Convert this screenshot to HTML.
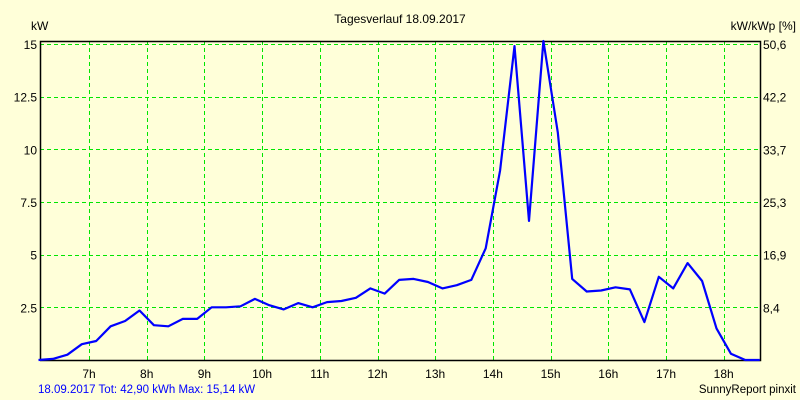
<!DOCTYPE html>
<html><head><meta charset="utf-8"><style>
html,body{margin:0;padding:0;background:#ffffd9;}
svg{display:block;font-family:"Liberation Sans",sans-serif;font-size:12px;}
</style></head><body>
<svg width="800" height="400" viewBox="0 0 800 400">
<rect x="0" y="0" width="800" height="400" fill="#ffffd9"/>
<text x="400" y="23" text-anchor="middle">Tagesverlauf 18.09.2017</text>
<text x="31" y="30">kW</text>
<text x="796" y="30" text-anchor="end">kW/kWp [%]</text>
<g id="grid"></g>
<g id="axes"></g>
<g id="labels"></g>
<polyline id="series" fill="none" stroke="#0000ff" stroke-width="2.2" stroke-linejoin="round"/>
<text x="38" y="393" fill="#0000ff" font-size="11.5">18.09.2017 Tot: 42,90 kWh Max: 15,14 kW</text>
<text x="796" y="393" text-anchor="end" font-size="11.5">SunnyReport pinxit</text>
</svg>
<script>
const hours = [7,8,9,10,11,12,13,14,15,16,17,18];
const yTicks = [2.5,5,7.5,10,12.5,15];
const yTickLabels = ["2.5","5","7.5","10","12.5","15"];
const rightTickLabels = ["8,4","16,9","25,3","33,7","42,2","50,6"];
const startTime = 6.125;
const stepHours = 0.25;
const power = [0,0.05,0.25,0.75,0.9,1.6,1.85,2.35,1.65,1.6,1.95,1.95,2.5,2.5,2.55,2.9,2.6,2.4,2.7,2.5,2.75,2.8,2.95,3.4,3.15,3.8,3.85,3.7,3.4,3.55,3.8,5.3,9.0,14.9,6.6,15.14,10.8,3.85,3.25,3.3,3.45,3.35,1.8,3.95,3.4,4.6,3.75,1.5,0.3,0,0];

const NS="http://www.w3.org/2000/svg";
const L=40,R=760,T=41,B=360;
function xScale(h){return 89+(h-7)*57.7;}
function yScale(v){return 360-v*21.07;}
function mk(tag,attrs,parent){const e=document.createElementNS(NS,tag);for(const k in attrs)e.setAttribute(k,attrs[k]);parent.appendChild(e);return e;}
const grid=document.getElementById('grid'),axes=document.getElementById('axes'),labels=document.getElementById('labels');
hours.forEach(h=>{
  const x=Math.round(xScale(h))+0.5;
  const g=mk('line',{x1:x,x2:x,y1:T,y2:B,stroke:'#00e600','stroke-dasharray':'4,3','stroke-width':1},grid);
  
  
  const t=mk('text',{x:xScale(h),y:378,'text-anchor':'middle'},labels);
  t.textContent=h+'h';
  
  
});
yTicks.forEach((v,i)=>{
  const y=Math.round(yScale(v))+0.5;
  const g=mk('line',{x1:L,x2:R,y1:y,y2:y,stroke:'#00e600','stroke-dasharray':'4,3','stroke-width':1},grid);
  
  
  const t=mk('text',{x:37,y:yScale(v)+5,'text-anchor':'end'},labels);
  t.textContent=yTickLabels[i];
  
  
  const t2=mk('text',{x:763,y:yScale(v)+5},labels);
  t2.textContent=rightTickLabels[i];
  
  
});
const frame=mk('path',{d:`M${L+0.5},${B} L${L+0.5},${T+0.5} L${R+0.5},${T+0.5} L${R+0.5},${B+0.5} L${L},${B+0.5}`,fill:'none',stroke:'#000','stroke-width':1.5},axes);


document.getElementById('series').setAttribute('points',power.map((v,i)=>xScale(startTime+i*stepHours).toFixed(1)+','+yScale(v).toFixed(1)).join(' '));
</script>
</body></html>
